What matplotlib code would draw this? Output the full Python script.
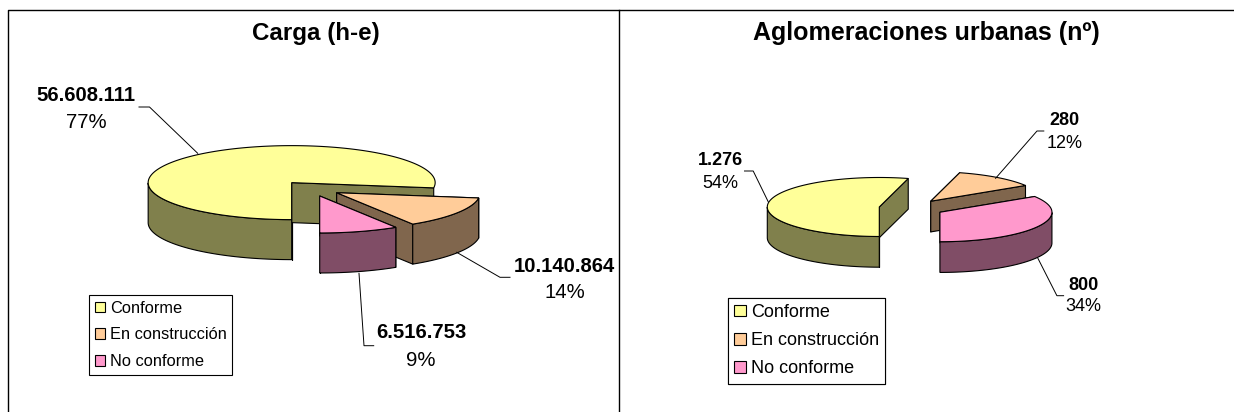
import numpy as np
import matplotlib
matplotlib.use('Agg')
import matplotlib.pyplot as plt
from matplotlib.patches import Patch, Polygon

categories = ['Conforme', 'En construcción', 'No conforme']
carga_values = [56608111, 10140864, 6516753]
aglomeraciones_values = [1276, 280, 800]

top_colors = ['#FFFF99', '#FFCC99', '#FF99CC']
side_colors = ['#80804C', '#80664D', '#804D66']

plt.rcParams['font.family'] = ['Liberation Sans', 'DejaVu Sans']


def point(cx, cy, rx, ry, bearing):
    b = np.radians(bearing)
    return cx + rx * np.sin(b), cy - ry * np.cos(b)


def draw_slice(ax, cx, cy, rx, ry, depth, start, end, top, side):
    # bearing runs clockwise from the top of the ellipse
    bearings = np.linspace(start, end, 240)
    xs, ys = point(cx, cy, rx, ry, bearings)
    for b in (start, end):
        x, y = point(cx, cy, rx, ry, b)
        ax.add_patch(Polygon([(cx, cy), (x, y), (x, y + depth), (cx, cy + depth)],
                             fc=side, ec='black', lw=0.8, joinstyle='round'))
    # only the front of the outer wall can be seen
    front = (bearings >= 90) & (bearings <= 270)
    if front.sum() > 1:
        fx, fy = xs[front], ys[front]
        wall = np.vstack([np.column_stack([fx, fy]),
                          np.column_stack([fx[::-1], fy[::-1] + depth])])
        ax.add_patch(Polygon(wall, fc=side, ec='black', lw=0.8))
    ax.add_patch(Polygon(np.vstack([[(cx, cy)], np.column_stack([xs, ys])]),
                         fc=top, ec='black', lw=0.8))


def draw_pie(ax, values, centre, rx, ry, depth, explode):
    total = sum(values)
    start = 180.0
    for value, top, side in zip(values, top_colors, side_colors):
        sweep = value / total * 360
        mid = start + sweep / 2
        cx, cy = point(centre[0], centre[1], rx * explode, ry * explode, mid)
        draw_slice(ax, cx, cy, rx, ry, depth, start, start + sweep, top, side)
        start = (start + sweep) % 360


def draw_labels(ax, values, spots, leaders, size):
    total = sum(values)
    for value, spot, leader in zip(values, spots, leaders):
        xs, ys = zip(*leader)
        ax.plot(xs, ys, color='black', lw=0.7)
        ax.text(spot[0], spot[1], f'{value:,}'.replace(',', '.'), ha='center',
                va='center', fontsize=size, fontweight='bold')
        ax.text(spot[2], spot[3], f'{value / total:.0%}', ha='center',
                va='center', fontsize=size)


def draw_legend(ax, x, y, size, spacing):
    handles = [Patch(fc=c, ec='black', lw=0.8) for c in top_colors]
    leg = ax.legend(handles, categories, loc='upper left', bbox_to_anchor=(x, y),
                    bbox_transform=ax.transData, borderaxespad=0, fontsize=size,
                    fancybox=False, framealpha=1, edgecolor='black',
                    handlelength=0.62, handleheight=0.62, handletextpad=0.3,
                    borderpad=0.35, labelspacing=spacing)
    leg.get_frame().set_linewidth(0.8)
    ax.add_artist(leg)


fig = plt.figure(figsize=(12.34, 4.12), dpi=100)
ax = fig.add_axes([0, 0, 1, 1])
ax.set_xlim(0, 1234)
ax.set_ylim(412, 0)
ax.axis('off')

# panel frames
ax.plot([8, 8, 1234], [412, 9.7, 9.7], color='black', lw=1.0)
ax.plot([618.5, 618.5], [9.7, 412], color='black', lw=1.0)

ax.text(316, 33, 'Carga (h-e)', ha='center', va='center', fontsize=17.4, fontweight='bold')
ax.text(926, 33, 'Aglomeraciones urbanas (nº)', ha='center', va='center',
        fontsize=18, fontweight='bold')

draw_pie(ax, carga_values, (311.4, 188.5), 143.5, 37, 40, 0.21)
draw_pie(ax, aglomeraciones_values, (911.5, 208.1), 112, 29.5, 30.7, 0.29)

draw_labels(ax, carga_values,
            [(85.8, 95.7, 86.6, 122), (564.4, 266.7, 564.6, 292), (421.3, 333, 421, 360)],
            [[(197.7, 153.3), (149.5, 107), (139, 107)],
             [(456.7, 252.3), (500, 277.3), (510, 277.3)],
             [(359, 273.3), (364, 345.7), (373.7, 345.7)]], 14.6)
draw_labels(ax, aglomeraciones_values,
            [(720.4, 160, 720, 183.3), (1064, 120.7, 1064.8, 143.3), (1083.4, 285, 1083.8, 306.7)],
            [[(768.2, 201.7), (753.2, 171), (744.5, 171)],
             [(995.6, 178.3), (1037, 131), (1043.8, 131)],
             [(1037.9, 258.3), (1056.9, 295.7), (1063.6, 295.7)]], 13)

draw_legend(ax, 89, 295, 11.8, 0.71)
draw_legend(ax, 728, 297.5, 13, 0.62)

fig.savefig('out.png', dpi=100)
